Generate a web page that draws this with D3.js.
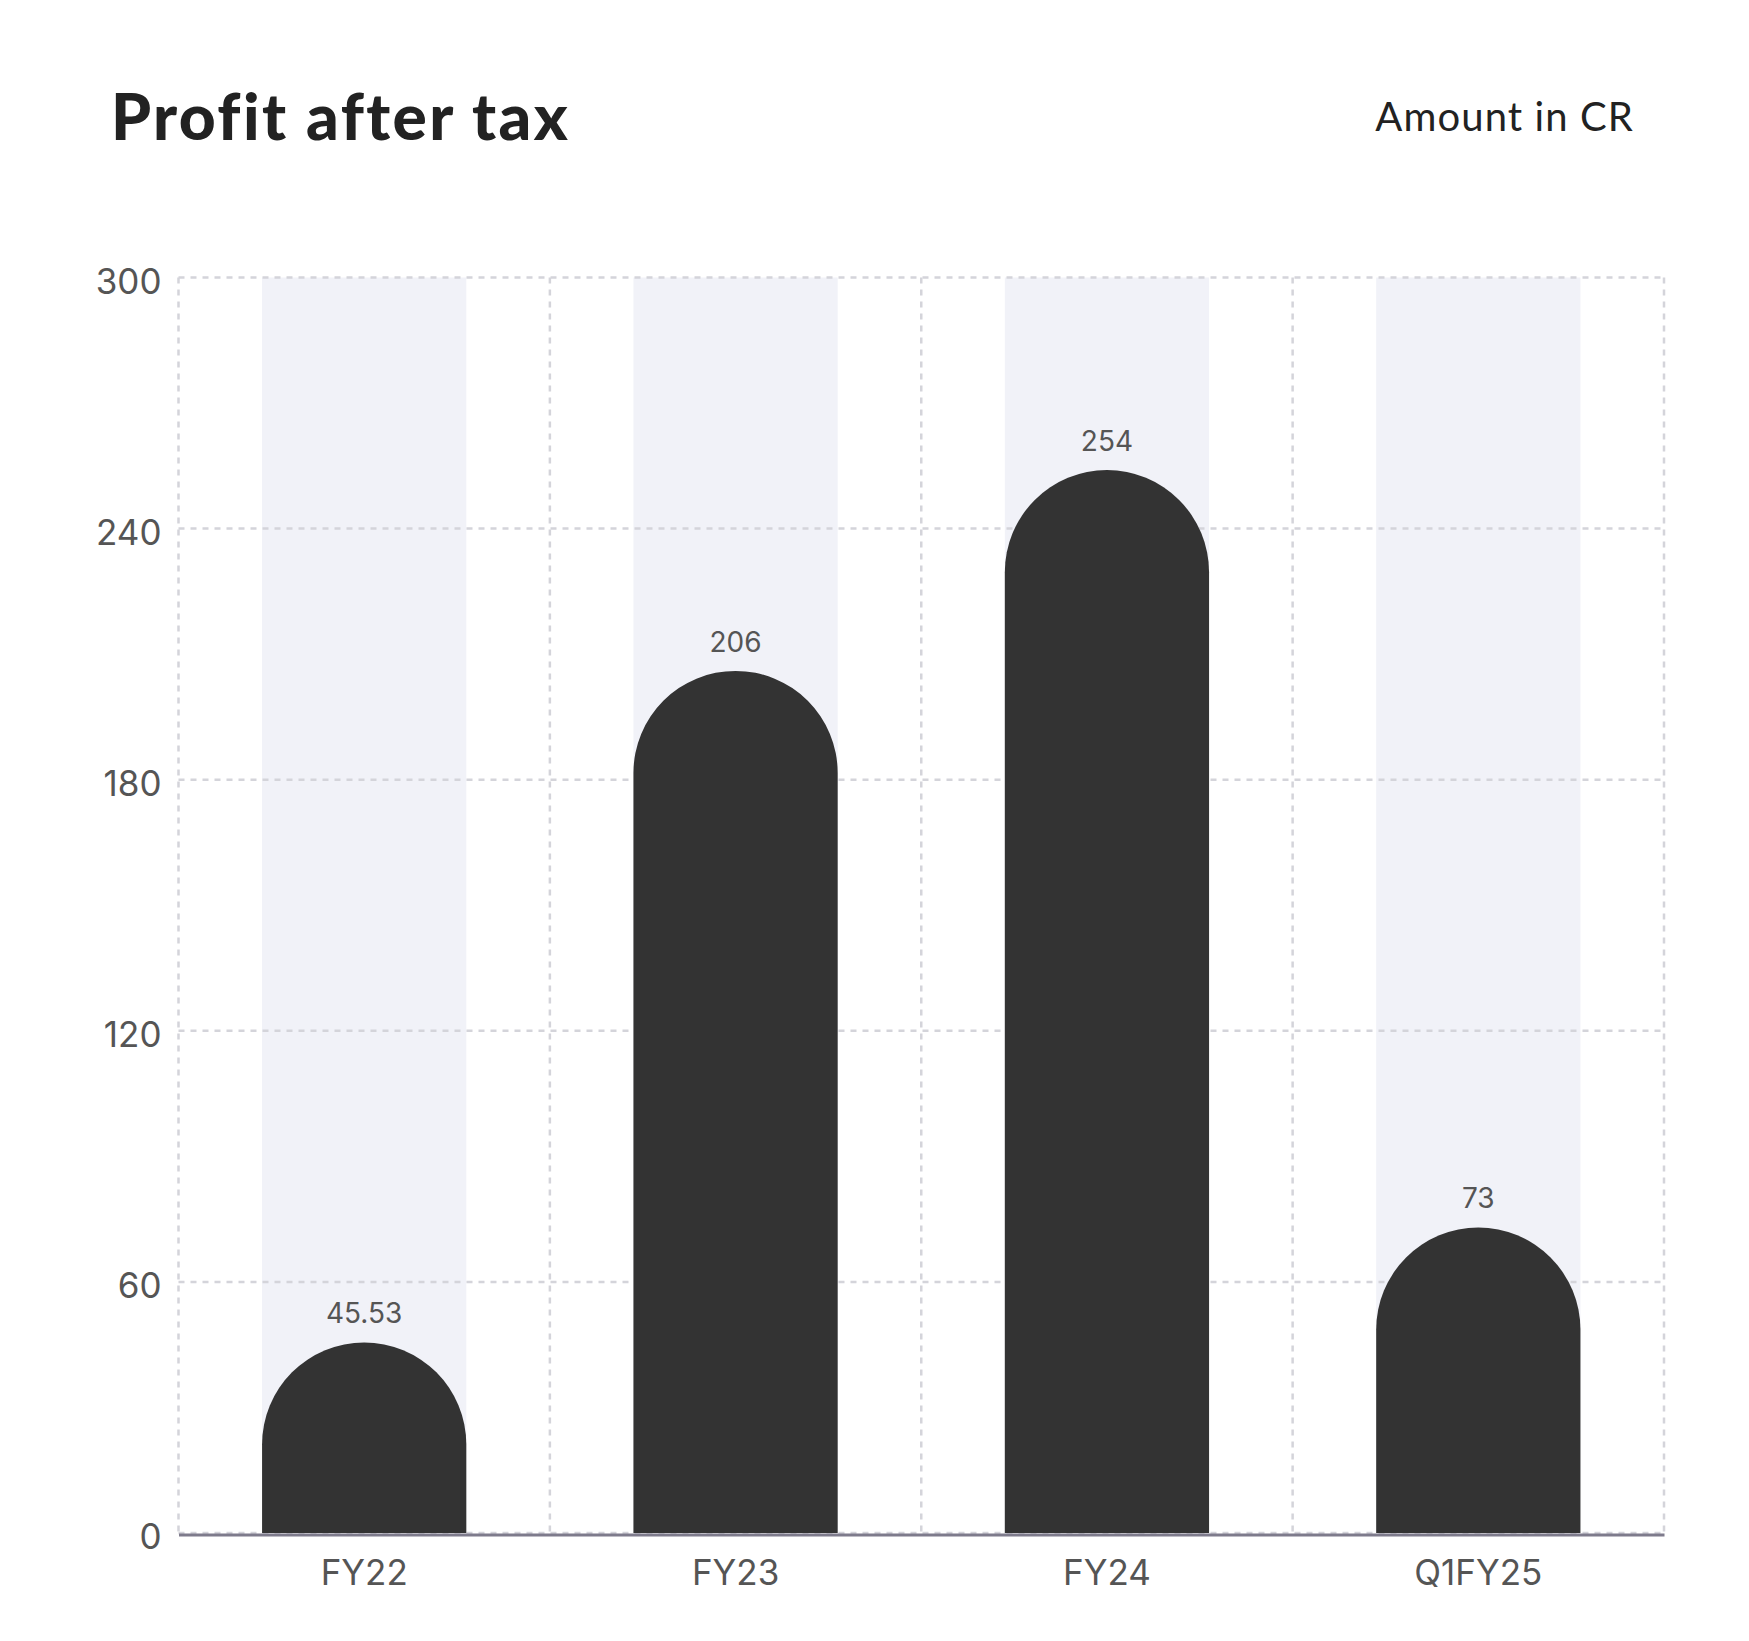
<!DOCTYPE html>
<html>
<head>
<meta charset="utf-8">
<script src="https://cdn.jsdelivr.net/npm/d3@7"></script>
<style>
  body { margin: 0; background: #fff; }
  svg { display: block; }
</style>
</head>
<body>
<div id="chart"></div>
<script>
var categories = ["FY22", "FY23", "FY24", "Q1FY25"];
var values = [45.53, 206, 254, 73];
var valueLabels = ["45.53", "206", "254", "73"];
var yTicks = [0, 60, 120, 180, 240, 300];

var width = 1749, height = 1641;
var margin = {top: 277.5, right: 85, bottom: 108, left: 178.5};
var innerW = width - margin.left - margin.right,
    innerH = height - margin.top - margin.bottom;

var svg = d3.select("#chart").append("svg")
  .attr("width", width)
  .attr("height", height);

// title + unit note
svg.append("text")
  .attr("x", 111).attr("y", 140)
  .style("font-family", "Lato, sans-serif")
  .style("font-weight", 900)
  .style("font-size", "64px")
  .style("letter-spacing", "2.4px")
  .style("fill", "#222")
  .text("Profit after tax");

svg.append("text")
  .attr("x", 1634).attr("y", 131)
  .attr("text-anchor", "end")
  .style("font-family", "Lato, sans-serif")
  .style("font-size", "40px")
  .style("letter-spacing", "1.1px")
  .style("fill", "#222")
  .text("Amount in CR");

var g = svg.append("g")
  .attr("transform", "translate(" + margin.left + "," + margin.top + ")");

var x = d3.scaleBand().domain(categories).range([0, innerW]).paddingInner(0.45).paddingOuter(0.225);
var xOuter = d3.scaleBand().domain(categories).range([0, innerW]).padding(0);
var y = d3.scaleLinear().domain([0, 300]).range([innerH, 0]);

// light band behind each bar
g.selectAll("rect.band")
  .data(categories)
  .enter().append("rect")
  .attr("class", "band")
  .attr("x", function(d) { return x(d); })
  .attr("y", 0)
  .attr("width", x.bandwidth())
  .attr("height", innerH)
  .style("fill", "#f1f2f8");

// horizontal gridlines
g.selectAll("line.hgrid")
  .data(yTicks)
  .enter().append("line")
  .attr("class", "hgrid")
  .attr("x1", 0).attr("x2", innerW)
  .attr("y1", function(d) { return y(d); })
  .attr("y2", function(d) { return y(d); })
  .style("stroke", "#d4d4da")
  .style("stroke-width", 2.5)
  .style("stroke-dasharray", "6,6");

// vertical gridlines at category boundaries
var bounds = categories.map(function(d) { return xOuter(d); }).concat([innerW]);
g.selectAll("line.vgrid")
  .data(bounds)
  .enter().append("line")
  .attr("class", "vgrid")
  .attr("x1", function(d) { return d; }).attr("x2", function(d) { return d; })
  .attr("y1", 0).attr("y2", innerH)
  .style("stroke", "#d4d4da")
  .style("stroke-width", 2.5)
  .style("stroke-dasharray", "6,6");

// bars with rounded tops (radius = half bar width)
function barPath(d, i) {
  var bx = x(categories[i]), w = x.bandwidth(), r = w / 2;
  var top = y(d), bottom = y(0);
  var h = bottom - top;
  if (h < r) r = h;
  return "M" + bx + "," + bottom +
    "L" + bx + "," + (top + r) +
    "A" + (w / 2) + "," + r + " 0 0 1 " + (bx + w) + "," + (top + r) +
    "L" + (bx + w) + "," + bottom + "Z";
}

g.selectAll("path.bar")
  .data(values)
  .enter().append("path")
  .attr("class", "bar")
  .attr("d", barPath)
  .style("fill", "#333333");

// value labels
g.selectAll("text.val")
  .data(values)
  .enter().append("text")
  .attr("class", "val")
  .attr("x", function(d, i) { return x(categories[i]) + x.bandwidth() / 2; })
  .attr("y", function(d) { return y(d) - 19; })
  .attr("text-anchor", "middle")
  .style("font-family", "Inter, sans-serif")
  .style("font-size", "28px")
  .style("fill", "#555")
  .text(function(d, i) { return valueLabels[i]; });

// y axis labels
var yAxis = g.append("g")
  .call(d3.axisLeft(y).tickValues(yTicks).tickSize(0).tickPadding(17));
yAxis.select(".domain").remove();
yAxis.selectAll("text")
  .attr("dy", "0.45em")
  .style("font-family", "Inter, sans-serif")
  .style("font-size", "35px")
  .style("fill", "#555");

// x axis
var xAxis = g.append("g")
  .attr("transform", "translate(0," + (innerH + 1.5) + ")")
  .call(d3.axisBottom(x).tickSize(0).tickPadding(26));
xAxis.select(".domain")
  .style("stroke", "#7e7b8c")
  .style("stroke-width", 3);
xAxis.selectAll("text")
  .attr("dy", "0.71em")
  .style("font-family", "Inter, sans-serif")
  .style("font-size", "35px")
  .style("fill", "#555");
</script>
</body>
</html>
